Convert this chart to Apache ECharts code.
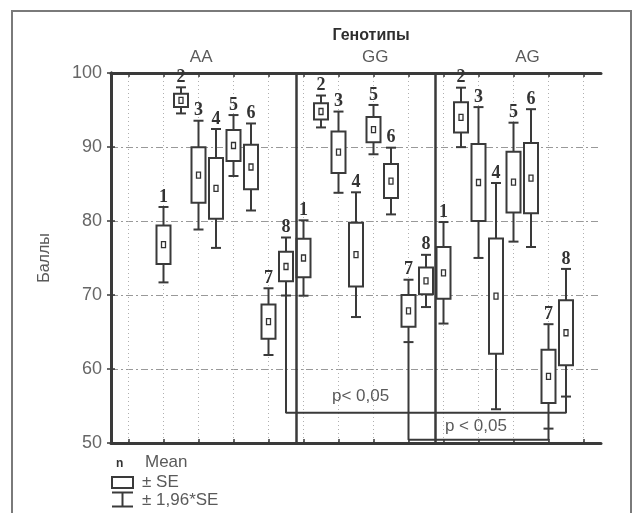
<!DOCTYPE html>
<html>
<head>
<meta charset="utf-8">
<script src="https://cdn.jsdelivr.net/npm/echarts@6/dist/echarts.min.js"></script>
<style>
html,body{margin:0;padding:0;background:#fff;}
#chart{width:640px;height:513px;}
</style>
</head>
<body>
<div id="chart"></div>
<script>
// genotype groups and where their first box sits on the x scale
var groups = ['AA', 'GG', 'AG'];
var groupStart = [3, 11, 19];
var groupLabelX = [5.15, 15.1, 23.8];
var itemLabels = ['1', '2', '3', '4', '5', '6', '7', '8'];

// mean and SE (box = mean±SE, whiskers = mean±1.96*SE)
var aaMean = [76.8, 96.3, 86.2, 84.4, 90.2, 87.3, 66.4, 73.85];
var aaSE = [2.6, 0.9, 3.75, 4.1, 2.1, 3.0, 2.3, 2.0];
var ggMean = [75.0, 94.8, 89.3, 75.45, 92.35, 85.4, 67.85, 71.9];
var ggSE = [2.6, 1.1, 2.8, 4.3, 1.7, 2.3, 2.15, 1.8];
var agMean = [73.0, 94.0, 85.2, 69.85, 85.25, 85.8, 59.0, 64.9];
var agSE = [3.5, 2.05, 5.2, 7.8, 4.1, 4.75, 3.6, 4.4];

var gridX = [1, 3, 5, 7, 9, 11, 13, 15, 17, 19, 21, 23, 25, 27];
var separators = [10.6, 18.5];

// significance brackets
var bracket1 = [[10, 69.9], [10, 54.1], [26, 54.1], [26, 56.3]];
var bracket2 = [[17, 63.6], [17, 50.45], [25, 50.45], [25, 51.9]];
var pTexts = ['p< 0,05', 'p < 0,05'];
var pPos = [[14.26, 56.3], [20.85, 52.2]];

var means = [aaMean, ggMean, agMean];
var ses = [aaSE, ggSE, agSE];
var boxData = [];
for (var g = 0; g < groups.length; g++) {
  for (var i = 0; i < itemLabels.length; i++) {
    boxData.push([groupStart[g] + i, means[g][i], ses[g][i], i]);
  }
}

var dark = '#3a3a3a';
var txt = '#5a5a5a';

function renderBox(params, api) {
  var x = api.value(0), m = api.value(1), se = api.value(2), li = api.value(3);
  var wt = api.coord([x, m + 1.96 * se]);
  var wb = api.coord([x, m - 1.96 * se]);
  var bt = api.coord([x, m + se]);
  var bb = api.coord([x, m - se]);
  var mc = api.coord([x, m]);
  var cx = wt[0];
  var st = { stroke: dark, lineWidth: 2 };
  return {
    type: 'group',
    children: [
      { type: 'line', shape: { x1: cx, y1: wt[1], x2: cx, y2: wb[1] }, style: st },
      { type: 'line', shape: { x1: cx - 5, y1: wt[1], x2: cx + 5, y2: wt[1] }, style: st },
      { type: 'line', shape: { x1: cx - 5, y1: wb[1], x2: cx + 5, y2: wb[1] }, style: st },
      { type: 'rect', shape: { x: cx - 7, y: bt[1], width: 14, height: bb[1] - bt[1] },
        style: { fill: '#fff', stroke: dark, lineWidth: 2 } },
      { type: 'rect', shape: { x: cx - 2, y: mc[1] - 3, width: 4, height: 6 },
        style: { fill: 'none', stroke: '#333', lineWidth: 1.3 } },
      { type: 'text', style: { text: itemLabels[li], x: cx, y: wt[1] - 1, align: 'center',
        verticalAlign: 'bottom', font: 'bold 18px "Liberation Serif", serif', fill: '#333' } }
    ]
  };
}

function renderP(params, api) {
  var p = api.coord([api.value(0), api.value(1)]);
  return { type: 'text', style: { text: pTexts[params.dataIndex], x: p[0], y: p[1],
    align: 'center', verticalAlign: 'middle', font: '17px "Liberation Sans", Arial, sans-serif', fill: txt } };
}

var chart = echarts.init(document.getElementById('chart'));
chart.setOption({
  animation: false,
  backgroundColor: '#fff',
  title: {
    text: 'Генотипы', left: 366, top: 23, textAlign: 'center',
    textStyle: { fontSize: 16, fontWeight: 'bold', color: '#2e2e2e', fontFamily: 'Liberation Sans, Arial, sans-serif' }
  },
  grid: { left: 111, right: 39, top: 73, bottom: 70 },
  xAxis: [{
    type: 'value', min: 0, max: 28, position: 'bottom',
    axisLine: { onZero: false, lineStyle: { color: dark, width: 3 } },
    axisTick: { inside: true, length: 4, customValues: gridX, lineStyle: { color: dark, width: 1.5 } },
    axisLabel: { show: false },
    splitLine: { show: true, lineStyle: { color: '#b0b0b0', type: [1, 3], width: 1 } }
  }, {
    type: 'value', min: 0, max: 28, position: 'top',
    axisLine: { onZero: false, lineStyle: { color: dark, width: 3 } },
    axisTick: { inside: true, length: 4, customValues: gridX, lineStyle: { color: dark, width: 1.5 } },
    axisLabel: {
      customValues: groupLabelX, margin: 7, fontSize: 17, color: txt,
      fontFamily: 'Liberation Sans, Arial, sans-serif',
      formatter: function (v) {
        for (var k = 0; k < groupLabelX.length; k++) if (Math.abs(groupLabelX[k] - v) < 0.01) return groups[k];
        return '';
      }
    },
    splitLine: { show: false }
  }],
  yAxis: [{
    type: 'value', min: 50, max: 100, interval: 10, position: 'left',
    name: 'Баллы', nameLocation: 'middle', nameGap: 58,
    nameTextStyle: { fontSize: 16, color: txt, fontFamily: 'Liberation Sans, Arial, sans-serif' },
    axisLine: { show: true, lineStyle: { color: dark, width: 3 } },
    axisTick: { show: true, inside: true, length: 4, lineStyle: { color: dark, width: 1.5 } },
    axisLabel: { fontSize: 18, color: '#666', margin: 9, fontFamily: 'Liberation Sans, Arial, sans-serif' },
    splitLine: { show: true, lineStyle: { color: '#999', type: [7, 3, 2, 3], width: 1 } }
  }, {
    type: 'value', min: 50, max: 100, interval: 10, position: 'right',
    axisLine: { show: true, lineStyle: { color: dark, width: 3 } },
    axisTick: { show: true, inside: true, length: 4, lineStyle: { color: dark, width: 1.5 } },
    axisLabel: { show: false },
    splitLine: { show: false }
  }],
  series: [{
    type: 'line', data: bracket1, symbol: 'none', z: 3,
    lineStyle: { color: dark, width: 2 },
    markLine: {
      silent: true, symbol: ['none', 'none'], label: { show: false },
      lineStyle: { color: dark, width: 2.5, type: 'solid' },
      data: separators.map(function (s) { return { xAxis: s }; })
    }
  }, {
    type: 'line', data: bracket2, symbol: 'none', z: 3,
    lineStyle: { color: dark, width: 2 }
  }, {
    type: 'custom', renderItem: renderBox, data: boxData, z: 4,
    encode: { x: 0, y: 1 }
  }, {
    type: 'custom', renderItem: renderP, data: pPos, z: 5
  }],
  graphic: [
    { type: 'rect', shape: { x: 12, y: 11, width: 619, height: 530 }, style: { fill: 'none', stroke: '#7a7a7a', lineWidth: 2 }, silent: true },
    { type: 'text', left: 116, top: 458, style: { text: 'n', font: 'bold 12px "Liberation Sans", Arial', fill: '#333' } },
    { type: 'text', left: 145, top: 454, style: { text: 'Mean', font: '17px "Liberation Sans", Arial', fill: txt } },
    { type: 'rect', shape: { x: 112, y: 477, width: 21, height: 11 }, style: { fill: 'none', stroke: dark, lineWidth: 2 } },
    { type: 'text', left: 142, top: 474, style: { text: '± SE', font: '17px "Liberation Sans", Arial', fill: txt } },
    { type: 'polyline', shape: { points: [[112, 492.5], [133, 492.5]] }, style: { stroke: dark, lineWidth: 2 } },
    { type: 'polyline', shape: { points: [[122.5, 492.5], [122.5, 506.5]] }, style: { stroke: dark, lineWidth: 2 } },
    { type: 'polyline', shape: { points: [[112, 506.5], [133, 506.5]] }, style: { stroke: dark, lineWidth: 2 } },
    { type: 'text', left: 142, top: 492, style: { text: '± 1,96*SE', font: '17px "Liberation Sans", Arial', fill: txt } }
  ]
});
</script>
</body>
</html>
